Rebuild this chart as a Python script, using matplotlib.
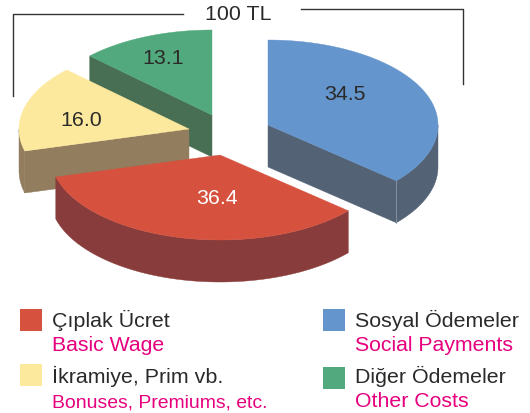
#!/usr/bin/env python3
import matplotlib
matplotlib.use("Agg")
import matplotlib.pyplot as plt
import numpy as np
from matplotlib.patches import Polygon, Rectangle

plt.rcParams['font.family'] = ['Liberation Sans', 'DejaVu Sans']

# order: clockwise from 12 o'clock
values = [34.5, 36.4, 16.0, 13.1]
# the slices in the picture are not quite to scale, so sweeps are read off it
sweeps = [131, 124, 59, 46]
names_tr = ["Sosyal Ödemeler", "Çıplak Ücret", "İkramiye, Prim vb.", "Diğer Ödemeler"]
names_en = ["Social Payments", "Basic Wage", "Bonuses, Premiums, etc.", "Other Costs"]
total_label = "100 TL"

top_colors = ["#6495CD", "#D6523F", "#FDE99D", "#52A97D"]
side_colors = ["#536375", "#883C3B", "#927D5E", "#486F54"]
label_colors = ["#2B2A29", "#FFFFFF", "#2B2A29", "#2B2A29"]

# pixel layout
centers = [(268, 125), (220, 155), (189, 129), (212, 115)]
label_pos = [(345, 95), (217, 198), (81, 120), (163, 59)]
legend_pos = [(323, 309), (20, 309), (20, 364), (323, 367)]
legend_text_y = [(327, 351), (327, 351), (383, 407), (383, 407)]
legend_size = [(15.4, 15.3), (15.4, 15.3), (15.4, 13.95), (15.4, 15.3)]
rx, ry, depth = 170, 85, 42

def rim(cx, cy, t0, t1):
	t = np.radians(np.linspace(t0, t1, 80))
	return np.column_stack((cx + rx * np.sin(t), cy - ry * np.cos(t)))

fig = plt.figure(figsize=(5.3, 4.13), dpi=100)
ax = fig.add_axes([0, 0, 1, 1])
ax.set_xlim(0, 530)
ax.set_ylim(413, 0)
ax.axis("off")

# draw back to front so nearer slices cover the walls behind them
ends = np.cumsum(sweeps)
for i in [0, 3, 2, 1]:
	cx, cy = centers[i]
	t0, t1 = ends[i] - sweeps[i], ends[i]
	drop = np.array([0, depth])
	# outer wall, only the part facing the viewer
	a, b = max(t0, 90), min(t1, 270)
	if a < b:
		pts = rim(cx, cy, a, b)
		ax.add_patch(Polygon(np.vstack((pts, pts[::-1] + drop)), fc=side_colors[i], ec=side_colors[i], lw=0.3))
	# cut faces
	for t, visible in ((t0, np.sin(np.radians(t0)) < -1e-6), (t1, np.sin(np.radians(t1)) > 1e-6)):
		if visible:
			p = rim(cx, cy, t, t)[0]
			apex = np.array([cx, cy])
			ax.add_patch(Polygon([apex, p, p + drop, apex + drop], fc=side_colors[i], ec=side_colors[i], lw=0.3))
			if 90 < t < 180:
				ax.plot([p[0], p[0]], [p[1], p[1] + depth], color="#8A95A3", lw=0.6)
	top = np.vstack(([cx, cy], rim(cx, cy, t0, t1)))
	ax.add_patch(Polygon(top, fc=top_colors[i], ec=top_colors[i], lw=0.3))
	ax.text(label_pos[i][0], label_pos[i][1], "{:.1f}".format(values[i]), color=label_colors[i],
		fontsize=15.4, ha="center", va="center")

# bracket around the total
ax.plot([13, 13, 183], [96, 14, 14], color="#333333", lw=1)
ax.plot([301, 463, 463], [9, 9, 84], color="#333333", lw=1)
ax.text(238, 14, total_label, color="#2B2A29", fontsize=15.4, ha="center", va="center")

# legend
for i in range(4):
	x, y = legend_pos[i]
	ax.add_patch(Rectangle((x, y), 22, 22, fc=top_colors[i], ec="none"))
	ax.text(x + 32, legend_text_y[i][0], names_tr[i], color="#2B2A29", fontsize=legend_size[i][0], va="baseline")
	ax.text(x + 32, legend_text_y[i][1], names_en[i], color="#E6007E", fontsize=legend_size[i][1], va="baseline")

fig.savefig("out.png", dpi=100)
